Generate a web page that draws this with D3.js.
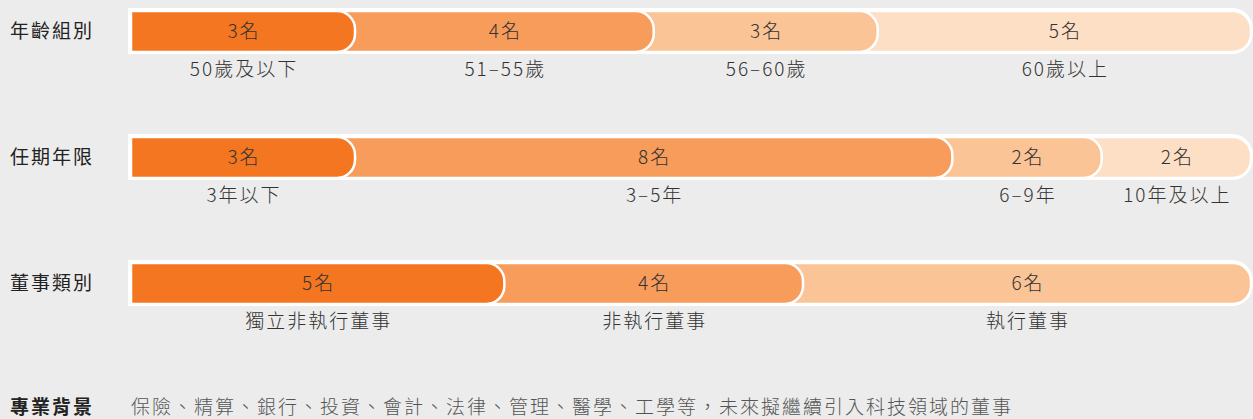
<!DOCTYPE html>
<html>
<head>
<meta charset="utf-8">
<script src="https://cdn.jsdelivr.net/npm/d3@7"></script>
<style>
  html, body { margin: 0; padding: 0; background: #ececec; }
  svg { display: block; }
  text { font-family: "Noto Sans CJK TC", "Noto Sans", sans-serif; letter-spacing: 2px; }
</style>
</head>
<body>
<svg id="chart" width="1253" height="419"></svg>
<script>
/* data */
const rowTitles = ["年齡組別", "任期年限", "董事類別"];
const ageCats = ["50歲及以下", "51–55歲", "56–60歲", "60歲以上"];
const ageCounts = [3, 4, 3, 5];
const tenureCats = ["3年以下", "3–5年", "6–9年", "10年及以上"];
const tenureCounts = [3, 8, 2, 2];
const typeCats = ["獨立非執行董事", "非執行董事", "執行董事"];
const typeCounts = [5, 4, 6];
const countSuffix = "名";
const footTitle = "專業背景";
const footText = "保險、精算、銀行、投資、會計、法律、管理、醫學、工學等，未來擬繼續引入科技領域的董事";

const colors = ["#f47621", "#f89c5b", "#fbc496", "#fddfc6"];

const svg = d3.select("#chart");

/* layout constants */
const barLeft = 131;
const barRight = 1251;
const barHeight = 41;
const capR = 18;

const rows = [
    { title: rowTitles[0], cats: ageCats, counts: ageCounts },
    { title: rowTitles[1], cats: tenureCats, counts: tenureCounts },
    { title: rowTitles[2], cats: typeCats, counts: typeCounts }
];

const rowY = d3.scalePoint()
    .domain(d3.range(rows.length))
    .range([11, 263]);

/* rectangle with square left side and rounded right corners */
function capPath(x0, x1, y, h, r) {
    return "M" + x0 + "," + y +
        "H" + (x1 - r) +
        "A" + r + "," + r + " 0 0 1 " + x1 + "," + (y + r) +
        "V" + (y + h - r) +
        "A" + r + "," + r + " 0 0 1 " + (x1 - r) + "," + (y + h) +
        "H" + x0 + "Z";
}

rows.forEach(function (row, ri) {
    const y0 = rowY(ri);
    const total = d3.sum(row.counts);
    const x = d3.scaleLinear()
        .domain([0, total])
        .range([barLeft, barRight]);

    const cum = d3.cumsum(row.counts);
    const segs = row.counts.map(function (c, i) {
        return { count: c, cat: row.cats[i], start: cum[i] - c, end: cum[i], i: i };
    });

    const g = svg.append("g").attr("class", "row");

    /* row title */
    g.append("text")
        .attr("x", 10)
        .attr("y", y0 + barHeight / 2)
        .attr("dy", "0.35em")
        .style("font-size", "19px")
        .style("fill", "#222")
        .text(row.title);

    /* white frame around the bar */
    g.append("path")
        .attr("d", capPath(barLeft - 3, barRight + 2, y0 - 3, barHeight + 5, capR + 3))
        .style("fill", "#fff");

    /* segments: longest first so earlier ones sit on top */
    g.selectAll(".seg")
        .data(segs.slice().reverse())
        .enter()
        .append("path")
        .attr("class", "seg")
        .attr("d", function (d) {
            return capPath(x(0), x(d.end), y0, barHeight, capR);
        })
        .style("fill", function (d) { return colors[d.i]; })
        .style("stroke", "#fff")
        .style("stroke-width", 2.5);

    /* counts inside the bar */
    g.selectAll(".count")
        .data(segs)
        .enter()
        .append("text")
        .attr("class", "count")
        .attr("x", function (d) { return (x(d.start) + x(d.end)) / 2 + 1; })
        .attr("y", y0 + barHeight / 2)
        .attr("dy", "0.35em")
        .attr("text-anchor", "middle")
        .style("font-size", "19px")
        .style("font-weight", "300")
        .style("fill", "#333")
        .text(function (d) { return d.count + countSuffix; });

    /* category labels under the bar */
    g.selectAll(".cat")
        .data(segs)
        .enter()
        .append("text")
        .attr("class", "cat")
        .attr("x", function (d) { return (x(d.start) + x(d.end)) / 2 + 1; })
        .attr("y", y0 + barHeight + 17)
        .attr("dy", "0.35em")
        .attr("text-anchor", "middle")
        .style("font-size", "19px")
        .style("font-weight", "300")
        .style("fill", "#333")
        .text(function (d) { return d.cat; });
});

/* footer line */
svg.append("text")
    .attr("x", 10)
    .attr("y", 407)
    .attr("dy", "0.35em")
    .style("font-size", "19px")
    .style("font-weight", "700")
    .style("fill", "#222")
    .text(footTitle);

svg.append("text")
    .attr("x", 131)
    .attr("y", 407)
    .attr("dy", "0.35em")
    .style("font-size", "19px")
    .style("font-weight", "300")
    .style("fill", "#555")
    .text(footText);
</script>
</body>
</html>
